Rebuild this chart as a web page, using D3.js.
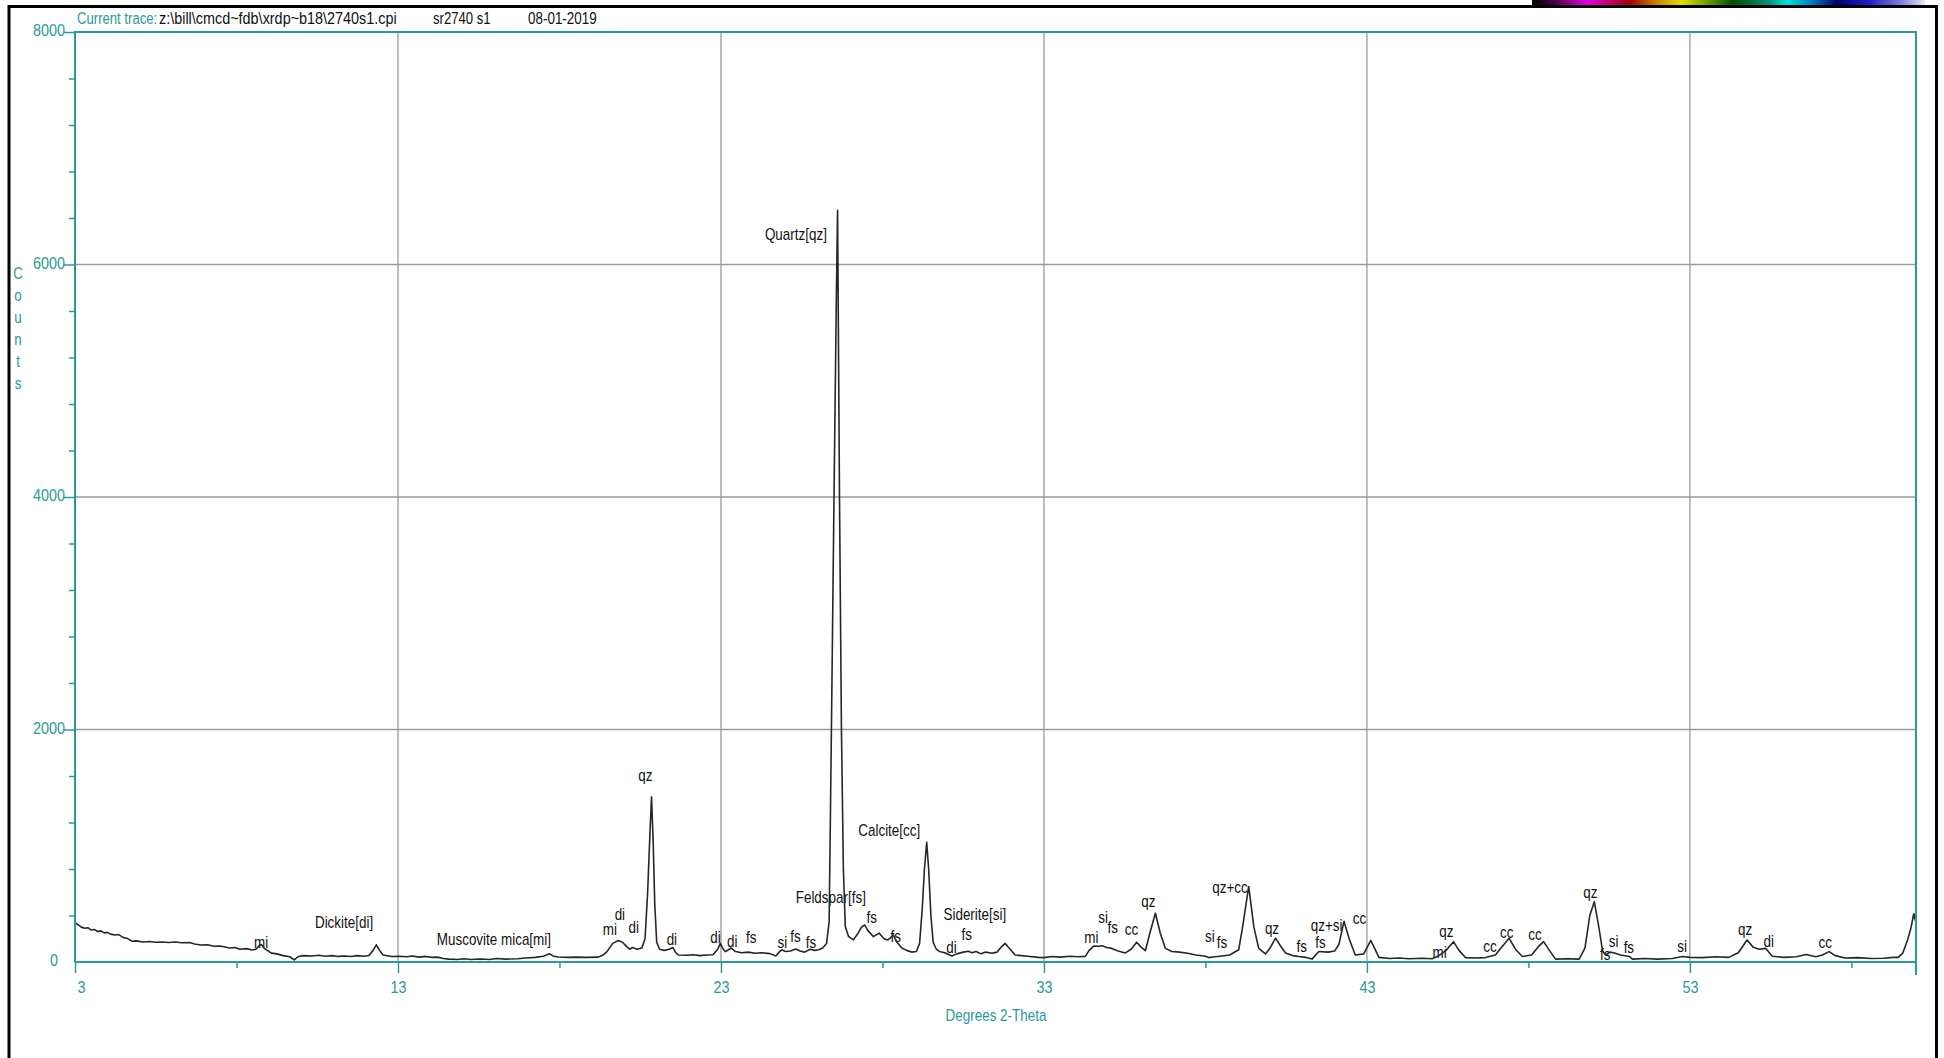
<!DOCTYPE html>
<html>
<head>
<meta charset="utf-8">
<script src="https://cdn.jsdelivr.net/npm/d3@7"></script>
<style>
  body { margin: 0; background: #fff; }
  svg { display: block; }
  text { font-family: 'Liberation Sans', Arial, sans-serif; font-size: 16px; }
</style>
</head>
<body>
<div id="chart"></div>
<script>
// diffractogram: degrees 2-theta and counts
const twoTheta = [
  3.00, 3.10, 3.20, 3.30, 3.40, 3.50, 3.60, 3.70, 3.80, 3.90, 4.00, 4.10, 4.24, 4.35, 4.50, 4.60, 4.77, 4.90,
  5.10, 5.31, 5.50, 5.70, 5.90, 6.10, 6.30, 6.55, 6.70, 6.90, 7.10, 7.30, 7.50, 7.79, 7.95, 8.10, 8.30, 8.50,
  8.60, 8.70, 8.77, 8.85, 9.08, 9.25, 9.45, 9.65, 9.79, 9.90, 10.05, 10.33, 10.55, 10.75, 10.95, 11.15, 11.35,
  11.55, 11.75, 11.95, 12.10, 12.23, 12.33, 12.43, 12.54, 12.81, 13.05, 13.25, 13.45, 13.65, 13.85, 14.05,
  14.23, 14.40, 14.58, 14.85, 15.05, 15.25, 15.55, 15.85, 16.05, 16.35, 16.71, 16.95, 17.25, 17.50, 17.69,
  17.83, 17.96, 18.25, 18.55, 18.85, 19.20, 19.35, 19.47, 19.65, 19.82, 19.95, 20.09, 20.17, 20.26, 20.40,
  20.55, 20.65, 20.73, 20.80, 20.85, 20.90, 20.95, 21.01, 21.10, 21.25, 21.40, 21.51, 21.60, 21.68, 21.95,
  22.15, 22.35, 22.55, 22.75, 22.90, 22.98, 23.07, 23.14, 23.32, 23.45, 23.64, 23.85, 24.05, 24.25, 24.52,
  24.70, 24.80, 24.88, 25.00, 25.15, 25.32, 25.45, 25.59, 25.76, 25.90, 26.03, 26.15, 26.27, 26.35, 26.42,
  26.50, 26.57, 26.61, 26.63, 26.67, 26.73, 26.79, 26.85, 26.95, 27.10, 27.25, 27.35, 27.45, 27.55, 27.72,
  27.90, 28.05, 28.16, 28.34, 28.45, 28.60, 28.75, 28.90, 29.05, 29.15, 29.23, 29.30, 29.37, 29.43, 29.50,
  29.57, 29.67, 29.77, 29.93, 30.15, 30.30, 30.50, 30.66, 30.77, 30.90, 31.05, 31.20, 31.39, 31.55, 31.68,
  31.80, 31.92, 32.11, 32.30, 32.50, 32.83, 33.00, 33.25, 33.50, 33.80, 34.05, 34.28, 34.40, 34.55, 34.69,
  34.80, 34.95, 35.10, 35.30, 35.52, 35.70, 35.87, 36.00, 36.14, 36.28, 36.45, 36.60, 36.76, 36.96, 37.20,
  37.45, 37.70, 38.00, 38.10, 38.30, 38.51, 38.75, 39.03, 39.15, 39.34, 39.50, 39.65, 39.86, 40.00, 40.17,
  40.32, 40.48, 40.70, 40.89, 41.10, 41.30, 41.51, 41.80, 42.00, 42.13, 42.29, 42.45, 42.64, 42.90, 43.12,
  43.25, 43.37, 43.70, 44.00, 44.30, 44.70, 45.02, 45.23, 45.45, 45.68, 45.85, 46.05, 46.35, 46.67, 46.98,
  47.15, 47.40, 47.60, 47.81, 48.10, 48.30, 48.47, 48.65, 48.84, 49.20, 49.57, 49.75, 49.90, 50.04, 50.18,
  50.30, 50.39, 50.52, 50.64, 50.85, 51.13, 51.22, 51.60, 52.00, 52.46, 52.77, 53.00, 53.40, 53.80, 54.20,
  54.50, 54.77, 54.95, 55.14, 55.35, 55.55, 55.90, 56.30, 56.60, 56.90, 57.10, 57.31, 57.50, 57.80, 58.20,
  58.60, 59.00, 59.30, 59.45, 59.59, 59.74, 59.85, 59.93, 60.00
];
const counts = [
  335, 320, 300, 290, 295, 275, 280, 262, 268, 250, 255, 240, 232, 236, 210, 205, 178, 182,
  172, 176, 170, 172, 168, 172, 165, 168, 155, 146, 148, 135, 138, 120, 125, 110, 115, 103,
  110, 140, 150, 120, 76, 70, 55, 45, 18, 45, 55, 52, 58, 50, 55, 48, 52,
  47, 55, 50, 56, 100, 148, 100, 60, 47, 50, 45, 52, 42, 48, 40,
  42, 30, 25, 22, 28, 22, 26, 22, 30, 25, 28, 35, 40, 50, 70,
  50, 43, 40, 42, 40, 42, 60, 89, 160, 185, 170, 130, 110, 125, 110,
  120, 200, 600, 1100, 1420, 1050, 500, 170, 110, 100, 110, 125, 80, 60, 58,
  62, 55, 60, 62, 110, 160, 110, 89, 120, 90, 80, 85, 75, 80, 72,
  52, 85, 105, 90, 95, 112, 95, 85, 110, 100, 105, 120, 160, 350, 2000,
  4000, 5660, 6466, 5660, 4000, 2000, 800, 305, 220, 190, 250, 300, 318, 270, 218,
  248, 200, 189, 232, 170, 120, 100, 85, 90, 160, 450, 800, 1030, 800, 400,
  170, 110, 90, 80, 52, 70, 85, 92, 80, 90, 70, 85, 75, 85, 130,
  160, 120, 60, 55, 50, 40, 38, 47, 42, 50, 45, 48, 100, 138, 135,
  140, 125, 117, 95, 78, 110, 170, 130, 97, 250, 420, 250, 117, 90, 85,
  75, 60, 50, 38, 45, 52, 60, 105, 300, 650, 300, 117, 69, 120, 205,
  140, 77, 55, 47, 40, 25, 90, 85, 95, 150, 350, 200, 60, 70, 185,
  110, 40, 30, 35, 28, 32, 28, 55, 100, 175, 100, 38, 35, 38, 60,
  120, 205, 110, 47, 60, 130, 175, 100, 25, 28, 25, 120, 400, 519, 300,
  90, 60, 85, 80, 60, 47, 25, 30, 25, 30, 47, 40, 38, 45, 40,
  80, 189, 130, 110, 117, 50, 40, 45, 65, 45, 60, 89, 55, 35, 38,
  30, 32, 40, 40, 77, 189, 300, 415, 340
];

// phase annotations
const annLabels = ["mi", "Dickite[di]", "Muscovite mica[mi]", "mi", "di", "di", "qz", "di", "di", "di",
  "fs", "si", "fs", "fs", "Feldspar[fs]", "Quartz[qz]", "fs", "fs", "Calcite[cc]", "Siderite[si]",
  "fs", "di", "mi", "si", "fs", "cc", "qz", "si", "fs", "qz+cc",
  "qz", "fs", "qz+si", "fs", "cc", "qz", "mi", "cc", "cc", "cc",
  "qz", "fs", "si", "fs", "si", "qz", "di", "cc"];
const annTheta = [8.76, 11.33, 15.97, 19.56, 19.87, 20.30, 20.66, 21.48, 22.83, 23.35,
  23.94, 24.90, 25.31, 25.79, 26.40, 25.32, 27.67, 28.41, 28.21, 30.86,
  30.61, 30.14, 34.47, 34.83, 35.13, 35.71, 36.23, 38.14, 38.51, 38.76,
  40.06, 40.98, 41.75, 41.56, 42.77, 45.46, 45.25, 46.81, 47.33, 48.20,
  49.92, 50.38, 50.64, 51.11, 52.76, 54.71, 55.44, 57.19];
const annCounts = [163, 335, 189, 275, 404, 292, 1599, 189, 206, 172,
  206, 163, 215, 163, 550, 6258, 378, 215, 1126, 404,
  232, 120, 206, 378, 292, 275, 518, 215, 163, 636,
  284, 129, 309, 163, 370, 258, 77, 129, 249, 232,
  596, 60, 172, 120, 129, 275, 172, 163];

const xTicks = [3, 13, 23, 33, 43, 53];
const xMinorTicks = [8, 18, 28, 38, 48, 58];
const yTicks = [0, 2000, 4000, 6000, 8000];
const yMinorTicks = [400, 800, 1200, 1600, 2400, 2800, 3200, 3600, 4400, 4800, 5200, 5600, 6400, 6800, 7200, 7600];
const header = ["z:\\bill\\cmcd~fdb\\xrdp~b18\\2740s1.cpi", "sr2740 s1", "08-01-2019"];

const W = 1944, H = 1058;
const teal = "#2a9a96";
const margin = {top: 32, right: 28, bottom: 96, left: 75};

// move x/y into a transform so the glyphs can be squeezed sideways (the old program's font is condensed)
function narrow(sel, k = 0.84) {
  sel.each(function () {
    const t = d3.select(this);
    const tx = +t.attr("x") || 0, ty = +t.attr("y") || 0;
    t.attr("x", null).attr("y", null)
      .attr("transform", `translate(${tx},${ty}) scale(${k},1)`);
  });
}

const svg = d3.select("#chart").append("svg").attr("width", W).attr("height", H);

// colour bar at the very top right
const grad = svg.append("defs").append("linearGradient").attr("id", "rainbow");
[[0, "#000000"], [0.055, "#400040"], [0.14, "#e000e0"], [0.25, "#a00000"], [0.31, "#c87800"],
 [0.38, "#e0e000"], [0.445, "#70a000"], [0.51, "#005000"], [0.6, "#009070"], [0.65, "#00e0e0"],
 [0.71, "#0080c0"], [0.775, "#000070"], [0.86, "#2020c0"], [0.94, "#8080e0"], [1, "#e8e8f8"]]
  .forEach(s => grad.append("stop").attr("offset", s[0]).attr("stop-color", s[1]));
svg.append("rect").attr("x", 1532).attr("y", 0).attr("width", 393).attr("height", 5).attr("fill", "url(#rainbow)");

// window frame
svg.append("rect").attr("x", 9).attr("y", 6.5).attr("width", 1927.5).attr("height", H + 10)
  .attr("fill", "none").attr("stroke", "#000").attr("stroke-width", 3);

const x = d3.scaleLinear().domain([3, 60]).range([margin.left, W - margin.right]);
const y = d3.scaleLinear().domain([0, 8000]).range([H - margin.bottom, margin.top]);

// grid
svg.append("g").selectAll("line").data(xTicks.slice(1)).join("line")
  .attr("x1", d => x(d)).attr("x2", d => x(d)).attr("y1", y(8000)).attr("y2", y(0))
  .attr("stroke", "#9a9a9a").attr("stroke-width", 1.3);
svg.append("g").selectAll("line").data(yTicks.slice(1, -1)).join("line")
  .attr("x1", x(3)).attr("x2", x(60)).attr("y1", d => y(d)).attr("y2", d => y(d))
  .attr("stroke", "#9a9a9a").attr("stroke-width", 1.3);

// phase labels (drawn under the trace)
svg.append("g").selectAll("text").data(annLabels).join("text")
  .attr("x", (d, i) => x(annTheta[i])).attr("y", (d, i) => y(annCounts[i]) + 5)
  .attr("text-anchor", "middle").attr("fill", "#111")
  .text(d => d)
  .call(narrow);

// trace
const line = d3.line().x(i => x(twoTheta[i])).y(i => y(counts[i]));
svg.append("path").datum(d3.range(twoTheta.length)).attr("d", line)
  .attr("fill", "none").attr("stroke", "#262626").attr("stroke-width", 1.6).attr("stroke-linejoin", "round");

// plot frame
svg.append("path")
  .attr("d", `M${x(3)},${y(0)}V${y(8000)}H${x(60)}V${y(0) + 13}M${x(3)},${y(0)}H${x(60)}`)
  .attr("fill", "none").attr("stroke", teal).attr("stroke-width", 2);

// axes
function styleAxis(g) {
  g.select(".domain").remove();
  g.selectAll("line").attr("stroke", teal).attr("stroke-width", 1.5);
  g.selectAll("text").attr("fill", teal).style("font-size", "16px")
    .style("font-family", "'Liberation Sans', Arial, sans-serif");
}
const yAxis = svg.append("g").attr("transform", `translate(${x(3)},0)`)
  .call(d3.axisLeft(y).tickValues(yTicks).tickSize(11).tickPadding(0).tickFormat(d3.format("d")))
  .call(styleAxis);
yAxis.selectAll(".tick").filter(d => d === 0).select("line").remove();
yAxis.selectAll(".tick text").attr("dy", null).attr("x", -10).attr("y", 3.5);
yAxis.selectAll(".tick").filter(d => d === 0).select("text").attr("x", -17).attr("y", 3);
yAxis.selectAll(".tick text").call(narrow, 0.9);
svg.append("g").attr("transform", `translate(${x(3)},0)`)
  .call(d3.axisLeft(y).tickValues(yMinorTicks).tickSize(6).tickFormat(""))
  .call(styleAxis);

const xAxis = svg.append("g").attr("transform", `translate(0,${y(0)})`)
  .call(d3.axisBottom(x).tickValues(xTicks).tickSize(11).tickPadding(8))
  .call(styleAxis);
xAxis.selectAll(".tick text").attr("dy", null).attr("y", 31);
xAxis.selectAll(".tick").filter(d => d === 3).select("text").attr("text-anchor", "start").attr("x", 2);
xAxis.selectAll(".tick text").call(narrow, 0.9);
svg.append("g").attr("transform", `translate(0,${y(0)})`)
  .call(d3.axisBottom(x).tickValues(xMinorTicks).tickSize(6).tickFormat(""))
  .call(styleAxis);

// axis titles
svg.append("text").attr("x", 996).attr("y", 1021).attr("text-anchor", "middle").attr("fill", teal)
  .text("Degrees 2-Theta").call(narrow);
svg.append("g").selectAll("text").data("Counts".split("")).join("text")
  .attr("x", 18).attr("y", (d, i) => 279 + i * 22).attr("text-anchor", "middle").attr("fill", teal)
  .text(d => d).call(narrow);

// header line
svg.append("text").attr("x", 77).attr("y", 23.5).attr("fill", teal).text("Current trace:").call(narrow, 0.82);
svg.append("g").selectAll("text").data(header).join("text")
  .attr("x", (d, i) => [159, 433, 528][i]).attr("y", 23.5).attr("fill", "#111")
  .text(d => d)
  .each(function (d, i) { d3.select(this).call(narrow, [0.9, 0.82, 0.84][i]); });
</script>
</body>
</html>
